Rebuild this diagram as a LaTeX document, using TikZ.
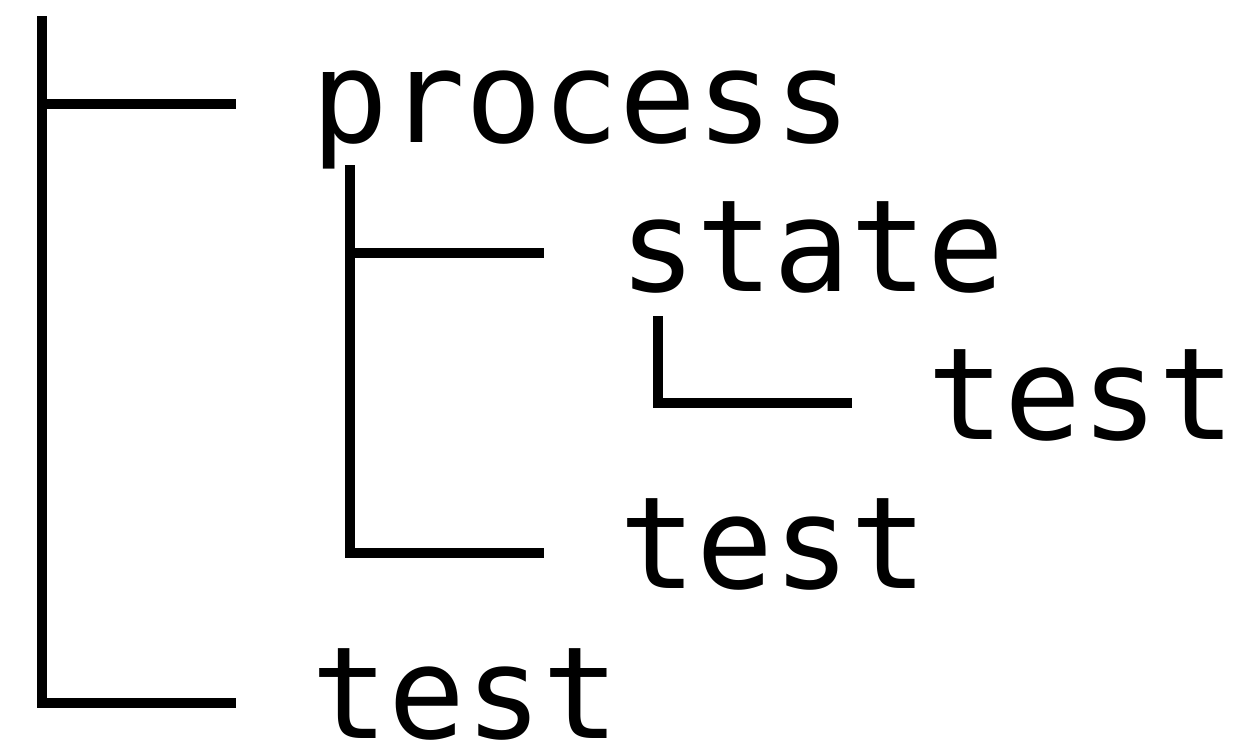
\documentclass[tikz,border=0pt]{standalone}
\usepackage{fontspec}
\newfontfamily\treefont{DejaVu Sans Mono}
\begin{document}
\begin{tikzpicture}[x=1pt,y=-1pt,
  treeline/.style={draw=black,line width=10pt,line cap=butt,line join=miter},
  label/.style={anchor=base west,inner sep=0pt,font=\treefont\fontsize{128}{149}\selectfont}]
\useasboundingbox (0,0) rectangle (1246,747);
% labels
\node[label] (process) at (311.5,142) {process};
\node[label] (state) at (619.5,291) {state};
\node[label] (test3) at (927.5,439) {test};
\node[label] (test2) at (619.5,588) {test};
\node[label] (test1) at (311.5,738) {test};
% tree coordinates
\coordinate (r1top) at (42,16);
\coordinate (h1) at (236,104);
\coordinate (h5) at (236,703);
\coordinate (r2top) at (350,165);
\coordinate (h2) at (544,253);
\coordinate (h4) at (544,553);
\coordinate (r3top) at (658,316);
\coordinate (h3) at (852,403);
% level 1
\draw[treeline] (r1top) |- (h5);
\draw[treeline] (r1top |- h1) -- (h1);
% level 2
\draw[treeline] (r2top) |- (h4);
\draw[treeline] (r2top |- h2) -- (h2);
% level 3
\draw[treeline] (r3top) |- (h3);
\end{tikzpicture}
\end{document}
